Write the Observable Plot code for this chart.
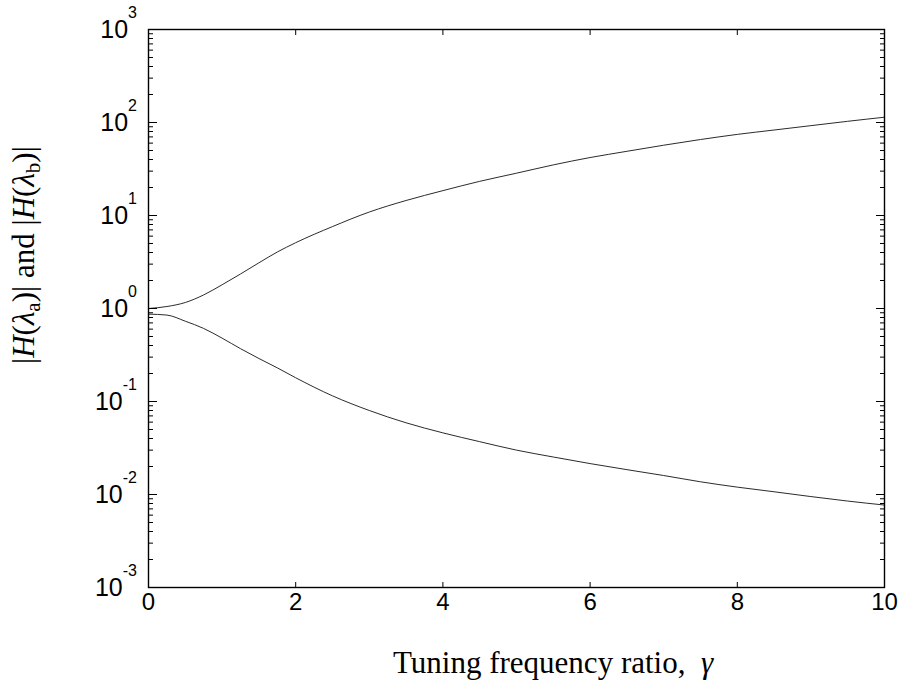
<!DOCTYPE html>
<html>
<head>
<meta charset="utf-8">
<script src="https://cdn.jsdelivr.net/npm/d3@7"></script>
<script src="https://cdn.jsdelivr.net/npm/@observablehq/plot@0.6"></script>
<style>
  html, body { margin: 0; padding: 0; background: #fff; }
  #chart svg { display: block; }
</style>
</head>
<body>
<div id="chart"></div>
<script>
// Tuning frequency ratio γ
const gamma = [0, 0.25, 0.5, 0.75, 1, 1.25, 1.5, 1.75, 2, 2.5, 3, 3.5, 4, 4.5, 5,
               5.5, 6, 6.5, 7, 7.5, 8, 8.5, 9, 9.5, 10];
// |H(λa)| — rising branch
const hA = [1.0, 1.05, 1.16, 1.40, 1.80, 2.35, 3.1, 4.05, 5.1, 7.6, 10.9, 14.5, 18.5, 23.3, 28.5,
            35, 42, 49, 57, 65.6, 74.5, 83, 92.5, 103, 114];
// |H(λb)| — falling branch
const hB = [0.87, 0.85, 0.73, 0.61, 0.48, 0.37, 0.29, 0.23, 0.18, 0.115, 0.08, 0.059, 0.046, 0.037, 0.030,
            0.0253, 0.0215, 0.0185, 0.016, 0.0137, 0.012, 0.0107, 0.0095, 0.0085, 0.0077];

const xTicks = [0, 2, 4, 6, 8, 10];
const yExponents = [-3, -2, -1, 0, 1, 2, 3];
const yMajor = yExponents.map(e => Math.pow(10, e));
const yMinor = [];
for (const e of yExponents.slice(0, -1)) for (let m = 2; m <= 9; m++) yMinor.push(m * Math.pow(10, e));

const rows = gamma.map((g, i) => ({g, a: hA[i], b: hB[i]}));

const lineStyle = {x: "g", stroke: "#2b2b2b", strokeWidth: 1, curve: "monotone-x"};
const noText = () => "";
const MAJOR = 9, MINOR = 5, XTICK = 5;

const chart = Plot.plot({
  width: 902,
  height: 692,
  marginLeft: 148,
  marginRight: 18,
  marginTop: 29,
  marginBottom: 105,
  style: {fontFamily: "'Liberation Sans', Arial, sans-serif", fontSize: "24px", color: "black", background: "white"},
  x: {domain: [0, 10]},
  y: {type: "log", domain: [1e-3, 1e3]},
  marks: [
    Plot.line(rows, {...lineStyle, y: "a"}),
    Plot.line(rows, {...lineStyle, y: "b"}),
    // ticks pointing into the plot box on all four sides
    Plot.axisX({ticks: xTicks, anchor: "bottom", tickSize: XTICK, dy: -XTICK, tickFormat: noText, label: null}),
    Plot.axisX({ticks: xTicks, anchor: "top", tickSize: XTICK, dy: XTICK, tickFormat: noText, label: null}),
    Plot.axisY({ticks: yMajor, anchor: "left", tickSize: MAJOR, dx: MAJOR, tickFormat: noText, label: null}),
    Plot.axisY({ticks: yMajor, anchor: "right", tickSize: MAJOR, dx: -MAJOR, tickFormat: noText, label: null}),
    Plot.axisY({ticks: yMinor, anchor: "left", tickSize: MINOR, dx: MINOR, tickFormat: noText, label: null}),
    Plot.axisY({ticks: yMinor, anchor: "right", tickSize: MINOR, dx: -MINOR, tickFormat: noText, label: null}),
    // x tick labels
    Plot.axisX({ticks: xTicks, anchor: "bottom", tickSize: 0, tickPadding: 5, fontSize: 24, label: null}),
    Plot.frame({stroke: "black", strokeWidth: 1.4})
  ]
});

document.getElementById("chart").appendChild(chart);

// Power-of-ten tick labels and rich-text axis titles
const svg = d3.select(chart);
const y = chart.scale("y");
const sans = "'Liberation Sans', Arial, sans-serif";
const serif = "'Liberation Serif', 'Times New Roman', serif";

const yLabels = svg.append("g").attr("font-family", sans).attr("fill", "black").attr("text-anchor", "end");
yExponents.forEach(e => {
  const t = yLabels.append("text")
    .attr("x", 137)
    .attr("y", y.apply(Math.pow(10, e)) + 9)
    .attr("font-size", 25);
  t.append("tspan").text("10");
  t.append("tspan").attr("dy", -20).attr("font-size", 16).text(String(e));
});

// y title: |H(λa)| and |H(λb)|
const yt = svg.append("text")
  .attr("font-family", serif)
  .attr("font-size", 31)
  .attr("fill", "black")
  .attr("text-anchor", "start")
  .attr("transform", "translate(34,364) rotate(-90)");
function hTerm(sel, sub) {
  sel.append("tspan").text("|");
  sel.append("tspan").attr("font-style", "italic").text("H");
  sel.append("tspan").text("(");
  sel.append("tspan").attr("font-style", "italic").text("λ");
  sel.append("tspan").attr("font-size", 21).attr("dy", 6).text(sub);
  sel.append("tspan").attr("dy", -6).text(")|");
}
hTerm(yt, "a");
yt.append("tspan").text(" and ");
hTerm(yt, "b");

// x title
const xt = svg.append("text")
  .attr("font-family", serif)
  .attr("font-size", 31)
  .attr("fill", "black")
  .attr("text-anchor", "start")
  .attr("x", 393)
  .attr("y", 673)
  .style("white-space", "pre");
xt.append("tspan").text("Tuning frequency ratio,  ");
xt.append("tspan").attr("font-style", "italic").text("γ");
</script>
</body>
</html>
